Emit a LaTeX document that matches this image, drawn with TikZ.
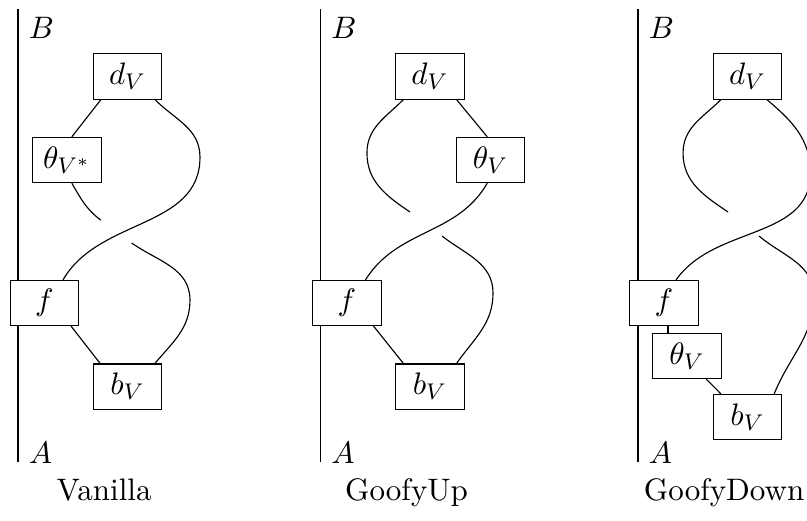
\documentclass[tikz,border=0pt,11pt]{standalone}
\usepackage{amsmath}
\usepackage{tikz}

\tikzset{
  morph/.style={draw, fill=white, minimum width=0.85cm, minimum height=0.56cm, inner sep=2pt},
  wall/.style={anchor=base west},
  caption/.style={anchor=base},
}

\begin{document}
\begin{tikzpicture}
    \useasboundingbox (0,0) rectangle (10,6.444);
    \clip (0,0) rectangle (10,6.444);

    % Vanilla
    \begin{scope}
    \coordinate (van_top) at (0.223,6.332);
    \coordinate (van_bot) at (0.223,0.719);
    \draw (van_top) -- (van_bot);
    \node[wall] (van_B) at (0.223,5.97) {$B$};
    \node[wall] (van_A) at (0.223,0.706) {$A$};
    \node[morph] (van_d) at (1.58,5.496) {$d_V$};
    \node[morph] (van_theta) at (0.83,4.461) {$\theta_{V^*}$};
    \node[morph] (van_f) at (0.551,2.689) {$f$};
    \node[morph] (van_b) at (1.58,1.654) {$b_V$};
    \node[caption] (van_name) at (1.29,0.248) {Vanilla};
    \coordinate (van_gap_in) at (1.248,3.717);
    \coordinate (van_gap_out) at (1.632,3.432);
    \coordinate (van_bulge_up) at (2.478,4.498);
    \coordinate (van_bulge_low) at (2.354,2.726);
    \draw ([xshift=-0.33cm]van_d.south) -- ([xshift=0.06cm]van_theta.north);
    \draw ([xshift=0.06cm]van_theta.south) to[out=-60,in=143] (van_gap_in);
    \draw (van_gap_out) to[out=-35,in=90] (van_bulge_low) to[out=-90,in=50] ([xshift=0.34cm]van_b.north);
    \draw ([xshift=0.34cm]van_d.south) to[out=-45,in=90] (van_bulge_up) to[out=-90,in=60] ([xshift=0.23cm]van_f.north);
    \draw ([xshift=0.33cm]van_f.south) -- ([xshift=-0.34cm]van_b.north);
    \end{scope}

    % GoofyUp
    \begin{scope}[xshift=3.748cm]
    \coordinate (up_top) at (0.223,6.332);
    \coordinate (up_bot) at (0.223,0.719);
    \draw (up_top) -- (up_bot);
    \node[wall] (up_B) at (0.223,5.97) {$B$};
    \node[wall] (up_A) at (0.223,0.706) {$A$};
    \node[morph] (up_d) at (1.58,5.496) {$d_V$};
    \node[morph] (up_theta) at (2.33,4.461) {$\theta_V$};
    \node[morph] (up_f) at (0.551,2.689) {$f$};
    \node[morph] (up_b) at (1.58,1.654) {$b_V$};
    \node[caption] (up_name) at (1.29,0.248) {GoofyUp};
    \coordinate (up_bulge_left) at (0.799,4.548);
    \coordinate (up_gap_in) at (1.332,3.817);
    \coordinate (up_gap_out) at (1.729,3.519);
    \coordinate (up_bulge_low) at (2.361,2.813);
    \draw ([xshift=-0.33cm]up_d.south) to[out=-135,in=90] (up_bulge_left) to[out=-90,in=146] (up_gap_in);
    \draw ([xshift=0.33cm]up_d.south) -- ([xshift=-0.04cm]up_theta.north);
    \draw ([xshift=-0.04cm]up_theta.south) to[out=-120,in=58] ([xshift=0.23cm]up_f.north);
    \draw (up_gap_out) to[out=-38,in=90] (up_bulge_low) to[out=-90,in=55] ([xshift=0.33cm]up_b.north);
    \draw ([xshift=0.33cm]up_f.south) -- ([xshift=-0.33cm]up_b.north);
    \end{scope}

    % GoofyDown
    \begin{scope}[xshift=7.683cm]
    \coordinate (down_top) at (0.223,6.332);
    \coordinate (down_bot) at (0.223,0.719);
    \draw (down_top) -- (down_bot);
    \node[wall] (down_B) at (0.223,5.97) {$B$};
    \node[wall] (down_A) at (0.223,0.706) {$A$};
    \node[morph] (down_d) at (1.58,5.496) {$d_V$};
    \node[morph] (down_f) at (0.545,2.689) {$f$};
    \node[morph] (down_theta) at (0.83,2.032) {$\theta_V$};
    \node[morph] (down_b) at (1.58,1.276) {$b_V$};
    \node[caption] (down_name) at (1.29,0.248) {GoofyDown};
    \coordinate (down_bulge_left) at (0.781,4.548);
    \coordinate (down_gap_in) at (1.338,3.817);
    \coordinate (down_gap_out) at (1.722,3.519);
    \coordinate (down_bulge_up) at (2.36,4.30);
    \coordinate (down_bulge_low) at (2.40,2.78);
    \draw ([xshift=-0.33cm]down_d.south) to[out=-135,in=90] (down_bulge_left) to[out=-90,in=146] (down_gap_in);
    \draw ([xshift=0.24cm]down_d.south) to[out=-40,in=90] (down_bulge_up) to[out=-90,in=55] ([xshift=0.15cm]down_f.north);
    \draw (down_gap_out) to[out=-40,in=90] (down_bulge_low) to[out=-90,in=68] ([xshift=0.33cm]down_b.north);
    \draw ([xshift=0.05cm]down_f.south) -- ([xshift=0.05cm]down_f.south |- down_theta.north);
    \draw ([xshift=0.24cm]down_theta.south) -- ([xshift=-0.33cm]down_b.north);
    \end{scope}
\end{tikzpicture}
\end{document}
